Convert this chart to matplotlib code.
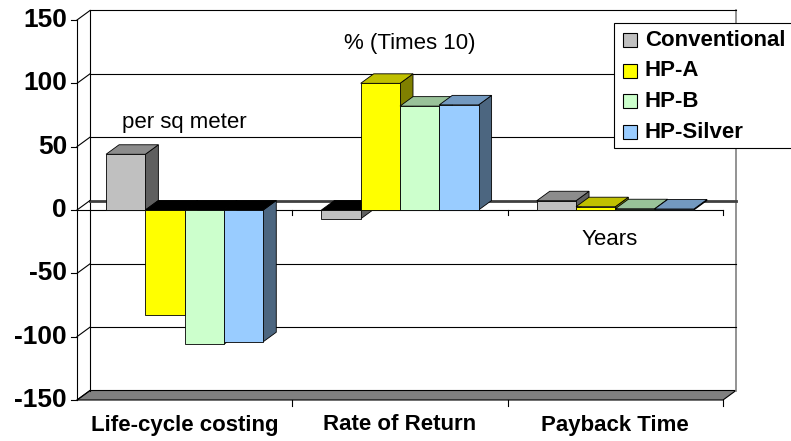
import matplotlib.pyplot as plt
from matplotlib.patches import Polygon, Rectangle

plt.rcParams['font.family'] = ['Liberation Sans', 'DejaVu Sans']

# data
categories = ['Life-cycle costing', 'Rate of Return', 'Payback Time']
series = ['Conventional', 'HP-A', 'HP-B', 'HP-Silver']
conventional = [44, -7, 7.3]
hp_a = [-83, 100, 2.6]
hp_b = [-106, 82, 1.0]
hp_silver = [-104, 83, 0.8]
y_ticks = [-150, -100, -50, 0, 50, 100, 150]

front_colors = ['#C0C0C0', '#FFFF00', '#CCFFCC', '#99CCFF']
top_colors = ['#8C8C8C', '#C0C000', '#99C299', '#7399C0']
side_colors = ['#5F5F5F', '#808000', '#669966', '#4C6680']

W, H = 791, 441
fig = plt.figure(figsize=(W / 100, H / 100), dpi=100)
# axes = front plane of the 3d box
ax = fig.add_axes([77 / W, 41 / H, 646 / W, 380 / H])
ax.set_xlim(-0.5, 2.5)
ax.set_ylim(-150, 150)
ax.axis('off')

px_x = 3 / 646      # data units per pixel
px_y = 300 / 380
dx, dy = 13 * px_x, 9.5 * px_y   # depth of the box
x0, x1 = -0.5, 2.5

kw = dict(clip_on=False)

# floor
ax.add_patch(Polygon([(x0, -150), (x1, -150), (x1 + dx, -150 + dy), (x0 + dx, -150 + dy)],
                     closed=True, fc='#808080', ec='black', lw=0.8, zorder=1, **kw))
# back wall
ax.plot([x0 + dx, x0 + dx], [-150 + dy, 150 + dy], color='black', lw=0.8, zorder=1, **kw)
ax.plot([x1 + dx, x1 + dx], [-150 + dy, 150 + dy], color='#808080', lw=1.2, zorder=1, **kw)
ax.plot([x0 + dx, x1 + dx], [150 + dy, 150 + dy], color='black', lw=0.8, zorder=1, **kw)
for t in y_ticks:
    if -150 < t < 150:
        lw, col = (2.0, '#404040') if t == 0 else (0.8, 'black')
        ax.plot([x0 + dx, x1 + dx], [t + dy, t + dy], color=col, lw=lw, zorder=1, **kw)
    ax.plot([x0, x0 + dx], [t, t + dy], color='black', lw=0.8, zorder=1, **kw)

# front value axis
ax.plot([x0, x0], [-150, 150], color='black', lw=0.8, zorder=5, **kw)
for t in y_ticks:
    ax.plot([x0 - 6 * px_x, x0], [t, t], color='black', lw=0.8, zorder=5, **kw)
    ax.text(x0 - 10 * px_x, t, str(t), ha='right', va='center',
            fontsize=19, fontweight='bold', **kw)

# category axis at zero and ticks at the bottom
ax.plot([x0, x1], [0, 0], color='black', lw=0.8, zorder=2, **kw)
for b in [0.5, 1.5, 2.5]:
    ax.plot([b, b], [0, -5 * px_y], color='black', lw=0.8, zorder=2, **kw)
    ax.plot([b, b], [-150, -150 - 6 * px_y], color='black', lw=0.8, zorder=2, **kw)
for i, c in enumerate(categories):
    ax.text(i, -150 - 25 * px_y, c, ha='center', va='center',
            fontsize=16, fontweight='bold', **kw)

# 3d columns
w = 39.3 * px_x
values = [conventional, hp_a, hp_b, hp_silver]
for ci in range(len(categories)):
    for si in range(len(series)):
        v = values[si][ci]
        L = ci - 2 * w + si * w
        lo, hi = min(v, 0), max(v, 0)
        z = 10 + ci * 10 + si
        ax.add_patch(Polygon([(L + w, lo), (L + w, hi), (L + w + dx, hi + dy), (L + w + dx, lo + dy)],
                             closed=True, fc=side_colors[si], ec='black', lw=0.6, zorder=z, **kw))
        top_fc = top_colors[si] if v >= 0 else 'black'
        ax.add_patch(Polygon([(L, hi), (L + w, hi), (L + w + dx, hi + dy), (L + dx, hi + dy)],
                             closed=True, fc=top_fc, ec='black', lw=0.6, zorder=z, **kw))
        ax.add_patch(Rectangle((L, lo), w, hi - lo, fc=front_colors[si], ec='black',
                               lw=0.6, zorder=z, **kw))

# annotations
ax.text(0, 68.7, 'per sq meter', ha='center', va='center', fontsize=16, **kw)
ax.text(1.046, 131.8, '% (Times 10)', ha='center', va='center', fontsize=16, **kw)
ax.text(1.975, -22.9, 'Years', ha='center', va='center', fontsize=16, **kw)

# legend box (partly cut by the right edge like the original)
fig.patches.append(Rectangle((614 / W, 1 - 148 / H), 190 / W, 125 / H, transform=fig.transFigure,
                             fc='white', ec='black', lw=0.8, zorder=50))
for si, name in enumerate(series):
    yc = 40 + si * 30.7
    fig.patches.append(Rectangle((623 / W, 1 - (yc + 7) / H), 14 / W, 14 / H,
                                 transform=fig.transFigure, fc=front_colors[si],
                                 ec='black', lw=0.8, zorder=51))
    fig.text(645 / W, 1 - yc / H, name, ha='left', va='center', fontsize=16,
             fontweight='bold', zorder=52)

fig.savefig('out.png', dpi=100)
